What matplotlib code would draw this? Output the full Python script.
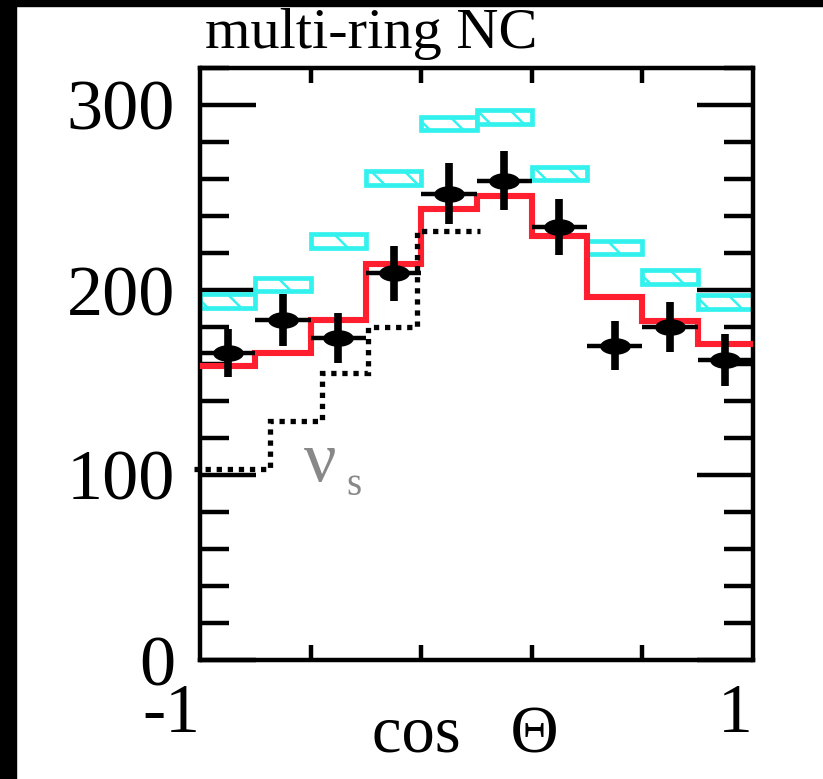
import numpy as np
import matplotlib
matplotlib.use("Agg")
import matplotlib.pyplot as plt
from matplotlib.patches import Rectangle
from matplotlib.path import Path
from matplotlib.ticker import FixedLocator, MultipleLocator

# ---- data: multi-ring NC zenith-angle distribution ----
bin_edges = np.linspace(-1.0, 1.0, 11)
bin_centers = 0.5 * (bin_edges[:-1] + bin_edges[1:])

data_counts = [166, 184, 174, 209, 252, 259, 234, 170, 180, 162]
data_errors = [13, 14, 13.5, 15, 16.5, 16, 15, 13, 13.5, 14]

numu_nutau_counts = [159, 166, 184, 214, 244, 251, 229, 196, 183, 171]
no_osc_counts = [194, 203, 226.5, 260.5, 290, 293.5, 263, 223, 207, 193.5]

sterile_edges = [-1.02, -0.747, -0.559, -0.392, -0.215, 0.013]
sterile_counts = [103, 129, 155, 180, 232]

x_tick_labels = ["-1", "1"]

plt.rcParams["font.family"] = ["Liberation Serif", "DejaVu Serif"]
plt.rcParams["hatch.color"] = "#33eeee"
plt.rcParams["hatch.linewidth"] = 1.8

fig = plt.figure(figsize=(8.23, 7.79), dpi=100, facecolor="white")
ax = fig.add_axes([200 / 823, 1 - 660 / 779, 553 / 823, 592 / 779])

# black frame strips on the left and top edge of the page
fig.patches.append(Rectangle((0, 0), 16 / 823, 1, transform=fig.transFigure,
                             color="black", zorder=10))
fig.patches.append(Rectangle((0, 1 - 6 / 779), 1, 6 / 779, transform=fig.transFigure,
                             color="black", zorder=10))

ax.set_xlim(-1, 1)
ax.set_ylim(0, 320)

# no-oscillation expectation: hatched boxes
box_h = 7.5
ax.bar(bin_centers, box_h, bottom=np.array(no_osc_counts) - box_h / 2,
       width=0.2, facecolor="white", edgecolor="#33f2ee", linewidth=3.4,
       hatch="\\", zorder=2)

# nu_mu <-> nu_tau expectation
ax.stairs(numu_nutau_counts, bin_edges, baseline=None, color="#ff1f2e",
          linewidth=4.4, zorder=3)

# sterile-neutrino expectation (dotted)
ax.stairs(sterile_counts, sterile_edges, baseline=None, color="black",
          linewidth=3.8, linestyle=(0, (1.0, 1.1)), zorder=4, clip_on=False)

# data points with error bars
theta = np.linspace(0, 2 * np.pi, 80)
ellipse = Path(np.column_stack([np.cos(theta), 0.52 * np.sin(theta)]), closed=True)
ax.errorbar(bin_centers, data_counts, yerr=data_errors, fmt="none",
            ecolor="black", elinewidth=5.5, capsize=0, zorder=5)
ax.errorbar(bin_centers, data_counts, xerr=0.1, fmt="none",
            ecolor="black", elinewidth=3.2, capsize=0, zorder=5)
ax.plot(bin_centers, data_counts, linestyle="none", marker=ellipse,
        markersize=21, color="black", zorder=6)

# label of the sterile curve
ax.text(-0.625, 97, "\u03bd", color="#888888", fontsize=52,
        va="baseline", ha="left", zorder=7)
ax.text(-0.472, 89, "s", color="#888888", fontsize=28,
        va="baseline", ha="left", zorder=7)

# axes, ticks and labels
for sp in ax.spines.values():
    sp.set_linewidth(3.2)

ax.xaxis.set_major_locator(FixedLocator([-1, 1]))
ax.set_xticklabels(x_tick_labels)
ax.xaxis.set_minor_locator(FixedLocator([-0.6, -0.2, 0.2, 0.6]))
ax.yaxis.set_major_locator(MultipleLocator(100))
ax.yaxis.set_minor_locator(MultipleLocator(20))

ax.tick_params(which="both", direction="in", top=True, right=True, width=3.2,
               color="black")
ax.tick_params(axis="y", which="major", length=40, labelsize=52, pad=18)
ax.tick_params(axis="y", which="minor", length=21)
ax.tick_params(axis="x", which="major", length=0, labelsize=50, pad=17)
ax.tick_params(axis="x", which="minor", length=11)
for lbl in ax.get_xticklabels():
    lbl.set_horizontalalignment("right")

ax.set_xlabel("cos   \u0398", fontsize=48)
ax.xaxis.set_label_coords(0.479, -0.128)
ax.xaxis.label.set_verticalalignment("center")

ax.text(0.309, 1.034, "multi-ring NC", transform=ax.transAxes, fontsize=42,
        ha="center", va="baseline")

fig.savefig("out.png", dpi=100, facecolor="white")
